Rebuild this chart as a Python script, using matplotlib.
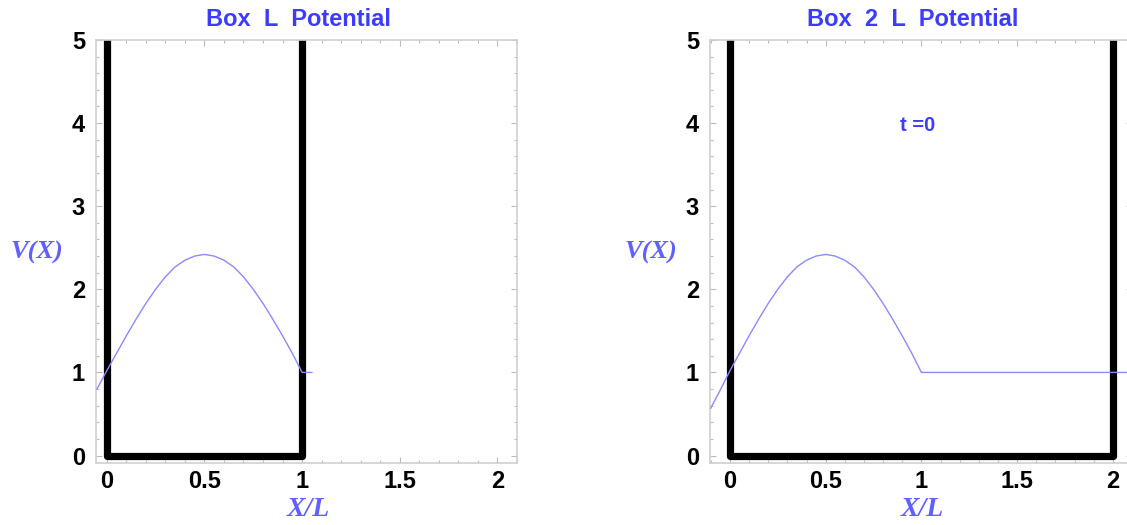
import matplotlib
matplotlib.use('Agg')
import matplotlib.pyplot as plt
from matplotlib.ticker import MultipleLocator

# potential curves
x_left = [-0.05, 0.0, 0.05, 0.1, 0.15, 0.2, 0.25, 0.3, 0.35, 0.4, 0.45, 0.5,
          0.55, 0.6, 0.65, 0.7, 0.75, 0.8, 0.85, 0.9, 0.95, 1.0, 1.05]
v_left = [0.80, 1.02, 1.23, 1.44, 1.64, 1.83, 2.00, 2.15, 2.27, 2.35, 2.40, 2.42,
          2.40, 2.35, 2.27, 2.15, 2.00, 1.83, 1.64, 1.44, 1.23, 1.00, 1.00]

x_right = [-0.1, -0.05, 0.0, 0.05, 0.1, 0.15, 0.2, 0.25, 0.3, 0.35, 0.4, 0.45, 0.5,
           0.55, 0.6, 0.65, 0.7, 0.75, 0.8, 0.85, 0.9, 0.95, 1.0, 2.07]
v_right = [0.57, 0.79, 1.02, 1.23, 1.44, 1.64, 1.83, 2.00, 2.15, 2.27, 2.35, 2.40, 2.42,
           2.40, 2.35, 2.27, 2.15, 2.00, 1.83, 1.64, 1.44, 1.23, 1.00, 1.00]

# box walls
box_left_x = [0, 0, 1, 1]
box_left_y = [5.5, 0, 0, 5.5]
box_right_x = [0, 0, 2, 2]
box_right_y = [5.5, 0, 0, 5.5]

titles = ['Box  L  Potential', 'Box  2  L  Potential']
xticks = [0, 0.5, 1, 1.5, 2]
xtick_labels = ['0', '0.5', '1', '1.5', '2']
yticks = [0, 1, 2, 3, 4, 5]

blue = '#3c3cff'
curve_blue = '#8a8aff'
label_blue = '#6060ff'
frame_gray = '#cfcfcf'

plt.rcParams['font.family'] = ['Liberation Sans', 'DejaVu Sans']

fig = plt.figure(figsize=(11.27, 5.25), dpi=100)
ax1 = fig.add_axes([96 / 1127, 62 / 525, 421 / 1127, 423 / 525])
ax2 = fig.add_axes([710 / 1127, 62 / 525, 422 / 1127, 423 / 525])

panels = [
    (ax1, x_left, v_left, box_left_x, box_left_y, (-0.055, 2.1)),
    (ax2, x_right, v_right, box_right_x, box_right_y, (-0.104, 2.1)),
]

for ax, xs, vs, bx, by, xl in panels:
    ax.plot(bx, by, color='black', lw=5.2, solid_joinstyle='round', solid_capstyle='round', zorder=2)
    ax.plot(xs, vs, color=curve_blue, lw=1.0, zorder=3)
    ax.set_xlim(*xl)
    ax.set_ylim(-0.09, 4.99)
    ax.set_xticks(xticks)
    ax.set_xticklabels(xtick_labels)
    ax.set_yticks(yticks)
    ax.xaxis.set_minor_locator(MultipleLocator(0.1))
    ax.yaxis.set_minor_locator(MultipleLocator(0.2))
    for s in ax.spines.values():
        s.set_color(frame_gray)
        s.set_linewidth(1.2)
    ax.tick_params(which='both', direction='in', top=True, right=True, color='#bbbbbb', width=0.8)
    ax.tick_params(which='major', length=4)
    ax.tick_params(which='minor', length=2.2)
    ax.tick_params(axis='x', which='major', pad=5, labelsize=17)
    ax.tick_params(axis='y', which='major', pad=8, labelsize=17)
    for lab in ax.get_xticklabels() + ax.get_yticklabels():
        lab.set_fontweight('bold')

ax2.text(0.98, 3.97, 't =0', color=blue, fontsize=14.5, fontweight='bold', ha='center', va='center')

fig.text(298 / 1127, 1 - 20 / 525, titles[0], color=blue, fontsize=17, fontweight='bold', ha='center', va='center')
fig.text(913 / 1127, 1 - 20 / 525, titles[1], color=blue, fontsize=17, fontweight='bold', ha='center', va='center')

for xc in [37, 651]:
    fig.text(xc / 1127, 1 - 252 / 525, 'V(X)', color=label_blue, fontsize=19, fontweight='bold',
             fontstyle='italic', family='Liberation Serif', ha='center', va='center')
for xc in [308, 922]:
    fig.text(xc / 1127, 1 - 510 / 525, 'X/L', color=label_blue, fontsize=20, fontweight='bold',
             fontstyle='italic', family='Liberation Serif', ha='center', va='center')

fig.savefig('out.png', dpi=100)
